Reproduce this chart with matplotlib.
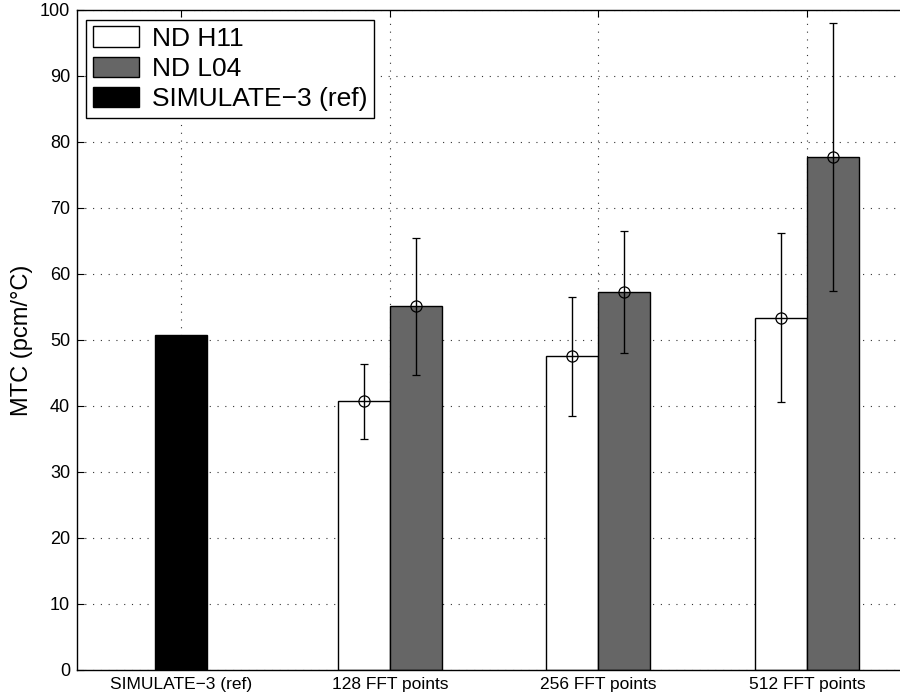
import matplotlib

matplotlib.use("Agg")
import matplotlib.pyplot as plt
import numpy as np

categories = ["SIMULATE\u22123 (ref)", "128 FFT points", "256 FFT points", "512 FFT points"]
series_names = ["ND H11", "ND L04", "SIMULATE\u22123 (ref)"]
ref_mtc = 50.8
h11_mtc = [40.7, 47.5, 53.4]
h11_err = [5.7, 9.0, 12.8]
l04_mtc = [55.1, 57.3, 77.7]
l04_err = [10.4, 9.2, 20.3]
yticks = list(range(0, 101, 10))

plt.rcParams["font.family"] = ["Liberation Sans", "DejaVu Sans"]

fig = plt.figure(figsize=(9, 6.99), dpi=100)
ax = fig.add_axes([0.0856, 0.0415, 0.9267, 0.9442])

width = 0.25
x = np.arange(1, len(categories) + 1)
xg = x[1:]

ax.bar(x[0], ref_mtc, width, color="black", edgecolor="black", lw=1, zorder=2, label=series_names[2])
ax.bar(xg - width / 2, h11_mtc, width, color="white", edgecolor="black", lw=1, zorder=2, label=series_names[0])
ax.bar(xg + width / 2, l04_mtc, width, color="#666666", edgecolor="black", lw=1, zorder=2, label=series_names[1])

for xs, vals, errs in [(xg - width / 2, h11_mtc, h11_err), (xg + width / 2, l04_mtc, l04_err)]:
    ax.errorbar(xs, vals, yerr=errs, fmt="o", mfc="none", mec="black", ms=8, mew=0.9,
                ecolor="black", elinewidth=1, capsize=2.8, capthick=1, zorder=3)

ax.set_xlim(0.5, 4.5)
ax.set_ylim(0, 100)
ax.set_xticks(x)
ax.set_xticklabels(categories, fontsize=12.5)
ax.set_yticks(yticks)
ax.tick_params(axis="y", labelsize=13)
ax.tick_params(direction="in", length=5, top=True, right=True, width=0.8, pad=5)
ax.set_ylabel("MTC (pcm/°C)", fontsize=17, labelpad=5)
ax.grid(True, linestyle=(0, (1, 6)), color="0.2", lw=0.8, zorder=0)
ax.set_axisbelow(True)
for s in ax.spines.values():
    s.set_linewidth(1)

handles, labels = ax.get_legend_handles_labels()
order = [1, 2, 0]
leg = ax.legend([handles[i] for i in order], [labels[i] for i in order],
                loc="upper left", bbox_to_anchor=(0.0108, 0.985), borderaxespad=0,
                fontsize=19, handlelength=1.75, handleheight=0.82, labelspacing=0.22,
                handletextpad=0.5, borderpad=0.25, fancybox=False, framealpha=1)
leg.get_frame().set_edgecolor("black")
leg.get_frame().set_linewidth(1)

fig.savefig("out.png", dpi=100)
